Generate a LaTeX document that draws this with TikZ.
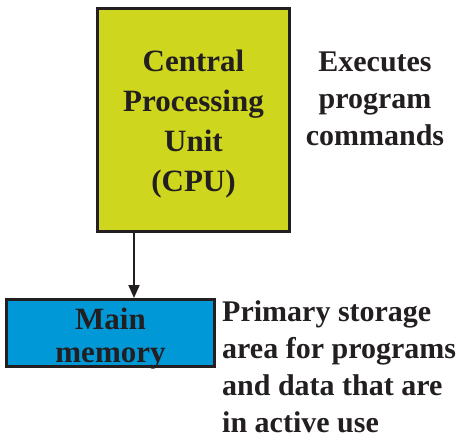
\documentclass[tikz,border=0pt]{standalone}
\usepackage{fontspec}
\setmainfont{Liberation Serif}
\usetikzlibrary{positioning, arrows.meta}
\usepackage{xcolor}
\definecolor{cpuyellow}{RGB}{206,214,30}
\definecolor{memblue}{RGB}{0,152,214}
\definecolor{inkdark}{RGB}{35,31,32}

\begin{document}
\begin{tikzpicture}[x=1pt, y=-1pt, font=\fontsize{30}{37}\selectfont\bfseries, text=inkdark,
			unit/.style={draw=inkdark, line width=3pt, align=center, inner sep=0pt},
			note/.style={inner sep=0pt}]
			\useasboundingbox (0,0) rectangle (462,439);
			
			\node[unit, fill=cpuyellow, minimum width=192pt, minimum height=223pt] (cpu) at (193.5,120) {};
			\node[note, align=center, font=\fontsize{31}{40}\selectfont\bfseries] (cputext) at ([yshift=-4pt]cpu.center) {Central\\Processing\\Unit\\(CPU)};
			\node[unit, fill=memblue, minimum width=208pt, minimum height=67pt] (mem) at (110.5,333) {};
			\node[note, align=center, font=\fontsize{31}{33}\selectfont\bfseries] (memtext) at ([yshift=-6pt]mem.center) {Main\\memory};
			
			\coordinate (top) at (134,232);
			\draw[line width=1.8pt, draw=inkdark, -{Triangle[length=13pt, width=11pt]}] (top) -- (mem.north -| top);
			
			\node[note, align=center, anchor=north] (exec) at (375,52) {Executes\\program\\commands};
			\node[note, align=left, anchor=north west] (prim) at (222,300) {Primary storage\\area for programs\\and data that are\\in active use};
			\end{tikzpicture}
\end{document}
